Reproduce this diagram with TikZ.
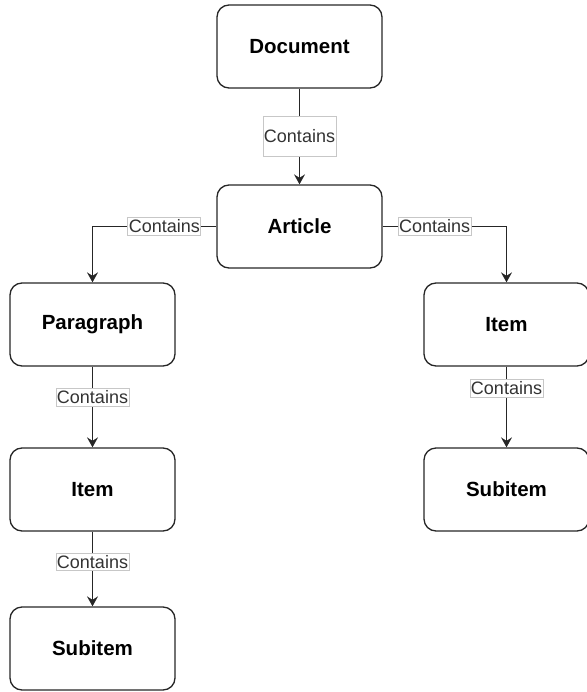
\documentclass[tikz,border=0pt]{standalone}
\usepackage{fontspec}
\setmainfont{Liberation Sans}
\usetikzlibrary{arrows.meta, positioning}
\tikzset{%
	block/.style={draw=black!85, rectangle, rounded corners=12pt, minimum width=165pt,%
		minimum height=83pt, line width=1.3pt, font=\fontsize{20.5}{25}\selectfont\bfseries},
	rel/.style={-{Stealth[length=10pt, width=11pt, inset=3.5pt]}, line width=1.3pt, draw=black!85},
	tag/.style={draw=black!22, line width=0.8pt, fill=white, inner xsep=1pt, inner ysep=2pt,%
		font=\fontsize{18}{20}\selectfont, text=black!80}
}

\begin{document}
\begin{tikzpicture}[x=1pt, y=1pt]
	\useasboundingbox (0,0) rectangle (586,-692);
	\node[block]                                (doc)   at (299.5,-46.5) {Document};
	\node[block, below=95.7pt of doc]             (art)   {Article};
	\node[block, below left =13.7pt and 40.7pt of art] (par)   {Paragraph};
	\node[block, below right=13.7pt and 40.7pt of art] (itemr) {Item};
	\node[block, below=80.7pt of par]             (iteml) {Item};
	\node[block, below=74.7pt of iteml]           (subl)  {Subitem};
	\node[block, below=80.7pt of itemr]           (subr)  {Subitem};

	\draw[rel] (doc) -- node[tag, minimum height=40pt]{Contains} (art);
	\draw[rel] (art) -| node[tag, pos=0.21]{Contains} (par);
	\draw[rel] (art) -| node[tag, pos=0.21]{Contains} (itemr);
	\draw[rel] (par) -- node[tag, pos=0.38]{Contains} (iteml);
	\draw[rel] (iteml) -- node[tag, pos=0.41]{Contains} (subl);
	\draw[rel] (itemr) -- node[tag, pos=0.27]{Contains} (subr);
\end{tikzpicture}
\end{document}
